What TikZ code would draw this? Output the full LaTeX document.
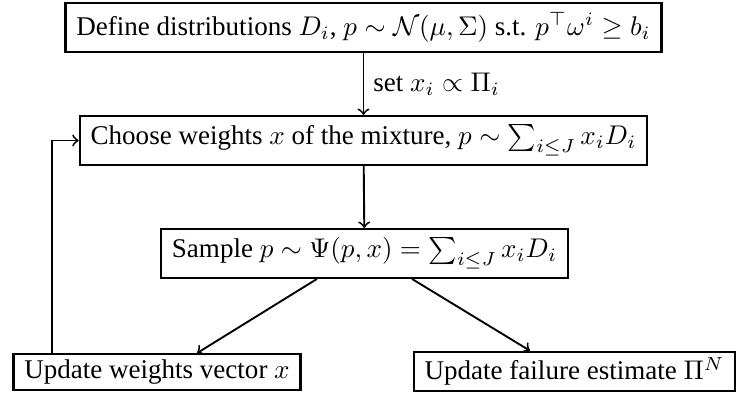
\documentclass[tikz,border=0pt]{standalone}
\usepackage{amsmath,amssymb}
\usepackage[no-math]{fontspec}
\setmainfont{Liberation Serif}
\usetikzlibrary{arrows,positioning}

\begin{document}
\begin{tikzpicture}
	[x=0.37pt,y=-0.37pt,
	block/.style={draw=black,line width=0.85pt,
		inner xsep=4pt,inner ysep=2pt},
	block1/.style={block,minimum height=18pt},
	flow/.style={->,black,line width=0.7pt}]
\useasboundingbox (0,0) rectangle (751,396);
%cajas
\node (define) at (363.5,27.5) [block1] {Define distributions $D_i$, $p\sim\mathcal{N}(\mu,\Sigma)$ s.t. $p^\top\omega^i\geq b_i$};
\node (choose) at (363.5,140.5) [block1] {Choose weights $x$ of the mixture, $p\sim\sum_{i\leq J}x_iD_i$};
\node (sample) at (364.5,253.5) [block1] {Sample $p\sim\Psi(p,x)=\sum_{i\leq J}x_iD_i$};
\node (weights) at (157,372) [block,minimum height=12.6pt] {Update weights vector $x$};
\node (failure) at (574.5,371.5) [block,minimum height=14.4pt] {Update failure estimate $\Pi^N$};
%flechas
\draw[flow] (define) -- node[right] (init) {set $x_i\propto\Pi_i$} (choose);
\draw[flow] (choose) -- (sample);
\draw[flow] ([xshift=-17.6pt]sample.south) -- ([xshift=14.8pt]weights.north);
\draw[flow] ([xshift=17.6pt]sample.south) -- ([xshift=-16.5pt]failure.north);
%retorno
\draw[flow] ([xshift=14.8pt]weights.north west) |- (choose.west);
\end{tikzpicture}
\end{document}
